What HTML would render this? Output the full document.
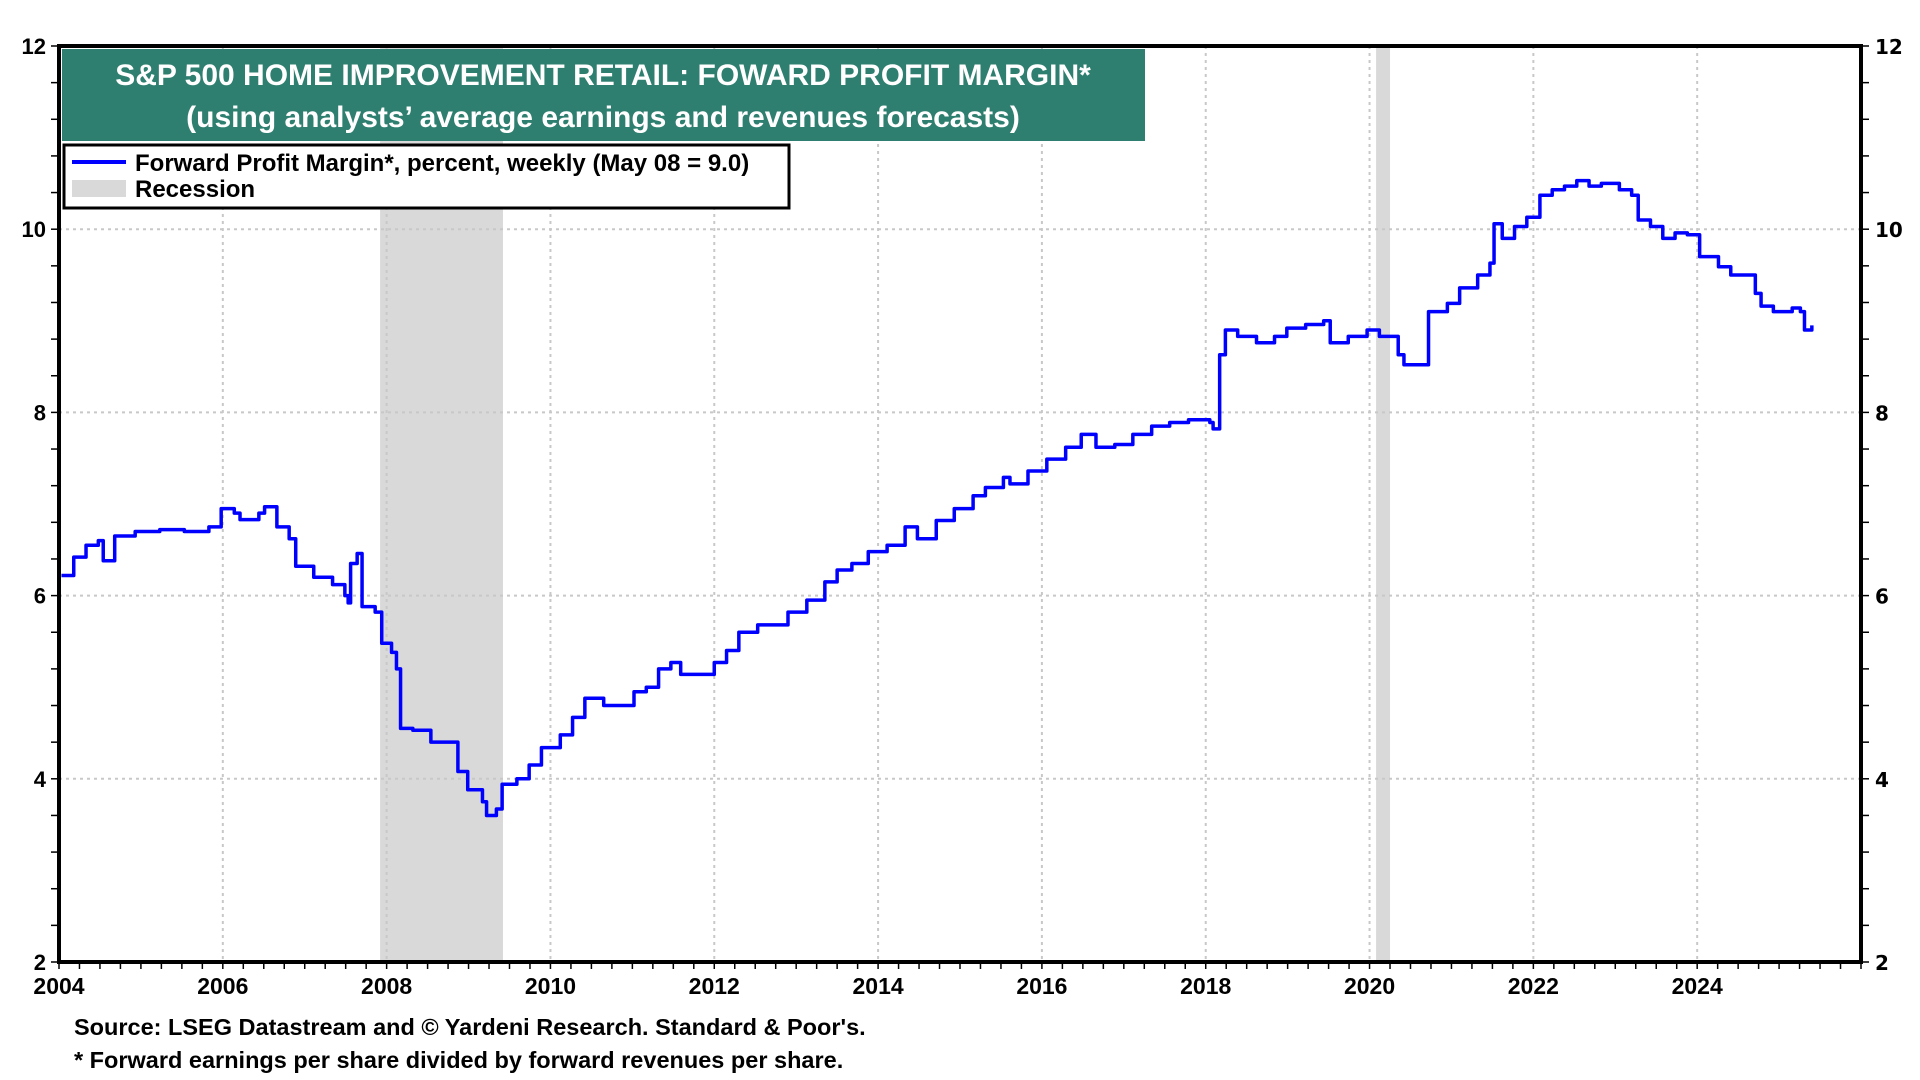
<!DOCTYPE html>
<html><head><meta charset="utf-8"><style>
body{margin:0;background:#fff;width:1920px;height:1080px;overflow:hidden;font-family:"Liberation Sans",Arial,sans-serif}
svg{display:block}
</style></head><body>
<svg id="chart" width="1920" height="1080" xmlns="http://www.w3.org/2000/svg">
<g id="bg"></g>
<g id="grid"></g>
<g id="series"></g>
<g id="axes"></g>
<g id="title-box">
<rect x="62" y="49" width="1083" height="92" fill="#2f7f70"/>
<text x="603" y="85" text-anchor="middle" fill="#fff" font-size="30" font-weight="bold">S&amp;P 500 HOME IMPROVEMENT RETAIL: FOWARD PROFIT MARGIN*</text>
<text x="603" y="127" text-anchor="middle" fill="#fff" font-size="30" font-weight="bold">(using analysts’ average earnings and revenues forecasts)</text>
</g>
<g>
<rect x="64" y="145" width="725" height="63" fill="#fff" stroke="#000" stroke-width="3"/>
<line x1="72" y1="162" x2="126" y2="162" stroke="#0000ff" stroke-width="4"/>
<text x="135" y="171" font-size="24" font-weight="bold">Forward Profit Margin*, percent, weekly (May 08 = 9.0)</text>
<rect x="72" y="180" width="54" height="17" fill="#d9d9d9"/>
<text x="135" y="197" font-size="24" font-weight="bold">Recession</text>
</g>
<text x="74" y="1035" font-size="23.5" font-weight="bold">Source: LSEG Datastream and © Yardeni Research. Standard &amp; Poor's.</text>
<text x="74" y="1068" font-size="23.5" font-weight="bold">* Forward earnings per share divided by forward revenues per share.</text>
</svg>
<script>
const years=[2004.03,2004.18,2004.33,2004.48,2004.54,2004.66,2004.68,2004.93,2005.23,2005.53,2005.83,2005.98,2006.14,2006.21,2006.44,2006.51,2006.66,2006.81,2006.89,2007.11,2007.34,2007.49,2007.53,2007.56,2007.64,2007.70,2007.86,2007.94,2008.06,2008.12,2008.17,2008.32,2008.54,2008.77,2008.87,2008.99,2009.17,2009.22,2009.34,2009.41,2009.59,2009.74,2009.89,2010.12,2010.27,2010.42,2010.65,2010.87,2011.02,2011.17,2011.32,2011.47,2011.59,2011.77,2012.0,2012.15,2012.30,2012.53,2012.75,2012.90,2013.13,2013.35,2013.50,2013.68,2013.88,2014.11,2014.33,2014.48,2014.71,2014.93,2015.16,2015.31,2015.53,2015.61,2015.83,2016.06,2016.29,2016.48,2016.66,2016.89,2017.11,2017.34,2017.56,2017.79,2018.05,2018.09,2018.17,2018.24,2018.39,2018.62,2018.84,2018.99,2019.22,2019.44,2019.52,2019.74,2019.97,2020.12,2020.27,2020.35,2020.42,2020.57,2020.72,2020.95,2021.10,2021.32,2021.47,2021.52,2021.62,2021.77,2021.92,2022.08,2022.23,2022.38,2022.53,2022.68,2022.83,2023.05,2023.20,2023.28,2023.43,2023.58,2023.73,2023.88,2024.03,2024.26,2024.41,2024.63,2024.71,2024.78,2024.93,2025.16,2025.26,2025.31,2025.40];
const margins=[6.22,6.42,6.55,6.6,6.38,6.38,6.65,6.7,6.72,6.7,6.75,6.95,6.9,6.83,6.9,6.97,6.75,6.62,6.32,6.2,6.12,6.0,5.92,6.35,6.46,5.88,5.82,5.48,5.38,5.2,4.55,4.53,4.4,4.4,4.08,3.88,3.75,3.6,3.67,3.94,4.0,4.15,4.34,4.48,4.67,4.88,4.8,4.8,4.95,5.0,5.2,5.27,5.14,5.14,5.27,5.4,5.6,5.68,5.68,5.82,5.95,6.15,6.28,6.35,6.48,6.55,6.75,6.62,6.82,6.95,7.09,7.18,7.29,7.22,7.36,7.49,7.62,7.76,7.62,7.65,7.76,7.85,7.89,7.92,7.89,7.82,8.63,8.9,8.83,8.76,8.83,8.92,8.96,9.0,8.76,8.83,8.9,8.83,8.83,8.63,8.52,8.52,9.1,9.19,9.36,9.5,9.63,10.06,9.9,10.03,10.13,10.37,10.43,10.47,10.53,10.47,10.5,10.43,10.37,10.1,10.03,9.9,9.96,9.94,9.7,9.59,9.5,9.5,9.3,9.16,9.1,9.14,9.1,8.9,8.95];
const recStart=[2007.92,2020.08];
const recEnd=[2009.42,2020.25];
const yTicks=[2,4,6,8,10,12];
const xTickYears=[2004,2006,2008,2010,2012,2014,2016,2018,2020,2022,2024];

const L=59,R=1861,T=46,B=962,X0=2004,X1=2026,Y0=2,Y1=12;
const sx=v=>L+(v-X0)/(X1-X0)*(R-L);
const sy=v=>B-(v-Y0)/(Y1-Y0)*(B-T);
const NS="http://www.w3.org/2000/svg";
function mk(tag,attrs,parent){const e=document.createElementNS(NS,tag);for(const k in attrs)e.setAttribute(k,attrs[k]);document.getElementById(parent).appendChild(e);return e;}

for(let i=0;i<recStart.length;i++){
  const r=mk('rect',{x:sx(recStart[i]),y:T,width:sx(recEnd[i])-sx(recStart[i]),height:B-T,fill:'#d9d9d9'},'bg');
  
  
}
for(const v of yTicks){
  if(v>Y0&&v<Y1){const g=mk('line',{x1:L,x2:R,y1:sy(v),y2:sy(v),stroke:'#c8c8c8','stroke-width':2,'stroke-dasharray':'3,4'},'grid');
  
  }
}
for(const v of xTickYears){
  if(v>X0){const g=mk('line',{x1:sx(v),x2:sx(v),y1:T,y2:B,stroke:'#c8c8c8','stroke-width':2,'stroke-dasharray':'3,4'},'grid');
  
  }
}
let d='';
for(let i=0;i<years.length;i++){
  if(i===0)d+='M'+sx(years[i])+','+sy(margins[i]);
  else d+='H'+sx(years[i])+'V'+sy(margins[i]);
}
const p=mk('path',{d:d,fill:'none',stroke:'#0000ff','stroke-width':3.5,'stroke-linejoin':'round'},'series');



const frame=mk('rect',{x:L,y:T,width:R-L,height:B-T,fill:'none',stroke:'#000','stroke-width':4},'axes');


for(let v=Y0;v<=Y1+0.001;v+=0.4){
  mk('line',{x1:L-8,x2:L,y1:sy(v),y2:sy(v),stroke:'#000','stroke-width':1.5},'axes');
  mk('line',{x1:R,x2:R+8,y1:sy(v),y2:sy(v),stroke:'#000','stroke-width':1.5},'axes');
}
for(const v of yTicks){
  const t=mk('text',{x:L-13,y:sy(v)+8,'text-anchor':'end','font-size':22,'font-weight':'bold'},'axes');
  t.textContent=v;
  
  
  const t2=mk('text',{x:R+14,y:sy(v)+8,'font-size':20,'font-weight':'bold','font-family':'DejaVu Sans, sans-serif'},'axes');
  t2.textContent=v;
  
  
}
for(let q=X0;q<=X1;q+=0.25){
  mk('line',{x1:sx(q),x2:sx(q),y1:B,y2:B+7,stroke:'#000','stroke-width':1.5},'axes');
}
for(const v of xTickYears){
  const t=mk('text',{x:sx(v),y:B+32,'text-anchor':'middle','font-size':23,'font-weight':'bold'},'axes');
  t.textContent=v;
  
  
}
</script>
</body></html>
